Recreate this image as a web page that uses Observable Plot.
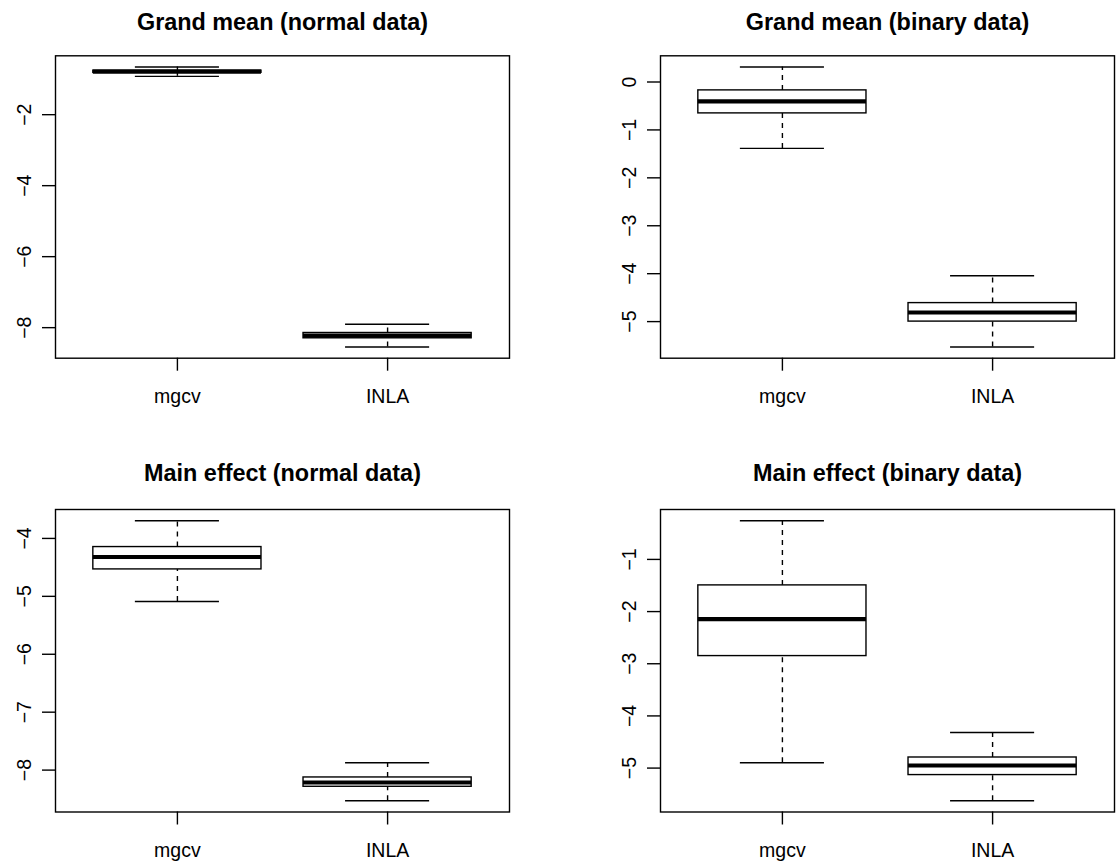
<!DOCTYPE html>
<html><head><meta charset="utf-8">
<script src="https://cdn.jsdelivr.net/npm/d3@7"></script>
<script src="https://cdn.jsdelivr.net/npm/@observablehq/plot@0.6"></script>
<style>
body{margin:0;background:#fff;}
#root{position:relative;width:1117px;height:867px;overflow:hidden;font-family:"Liberation Sans",Arial,Helvetica,sans-serif;}
#root svg{position:absolute;}
</style></head><body><div id="root"></div>
<script>
// categories
const methods = ["mgcv", "INLA"];
// panel titles
const titles = ["Grand mean (normal data)", "Grand mean (binary data)", "Main effect (normal data)", "Main effect (binary data)"];
// five-number summaries per method: [min, q1, median, q3, max]
const grandNormalMgcv = [-0.92, -0.82, -0.79, -0.76, -0.657];
const grandNormalInla = [-8.545, -8.30, -8.225, -8.15, -7.906];
const grandBinaryMgcv = [-1.386, -0.655, -0.405, -0.175, 0.313];
const grandBinaryInla = [-5.53, -5.0, -4.81, -4.614, -4.044];
const mainNormalMgcv = [-5.088, -4.535, -4.321, -4.149, -3.694];
const mainNormalInla = [-8.53, -8.288, -8.214, -8.127, -7.874];
const mainBinaryMgcv = [-4.898, -2.853, -2.143, -1.498, -0.258];
const mainBinaryInla = [-5.627, -5.134, -4.95, -4.797, -4.317];
// y tick values
const ticksGrandNormal = [-2, -4, -6, -8];
const ticksGrandBinary = [0, -1, -2, -3, -4, -5];
const ticksMainNormal = [-4, -5, -6, -7, -8];
const ticksMainBinary = [-1, -2, -3, -4, -5];

const FONT = '"Liberation Sans", Arial, Helvetica, sans-serif';
const fmt = v => (v < 0 ? "\u2212" + Math.abs(v) : String(v));

function panel(title, stats, yTicks, box) {
  const rows = stats.map((s, i) => ({m: methods[i], pos: i + 1, min: s[0], q1: s[1], med: s[2], q3: s[3], max: s[4]}));
  const lo = d3.min(rows, d => d.min), hi = d3.max(rows, d => d.max), pad = (hi - lo) * 0.04;
  const lw = 1.4;
  const svg = Plot.plot({
    width: box.w, height: box.h,
    marginLeft: box.ml, marginRight: box.mr, marginTop: box.mt, marginBottom: box.mb,
    x: {domain: [0.42, 2.58], axis: null, label: null},
    y: {domain: [lo - pad, hi + pad], axis: null, label: null},
    style: {fontFamily: FONT, fontSize: "19.5px", color: "black", background: "white", overflow: "visible"},
    marks: [
      Plot.ruleX(rows, {x: "pos", y1: "q3", y2: "max", strokeDasharray: "5,5", strokeWidth: lw}),
      Plot.ruleX(rows, {x: "pos", y1: "min", y2: "q1", strokeDasharray: "5,5", strokeWidth: lw}),
      Plot.ruleY(rows, {y: "max", x1: d => d.pos - 0.2, x2: d => d.pos + 0.2, strokeWidth: lw}),
      Plot.ruleY(rows, {y: "min", x1: d => d.pos - 0.2, x2: d => d.pos + 0.2, strokeWidth: lw}),
      Plot.rect(rows, {x1: d => d.pos - 0.4, x2: d => d.pos + 0.4, y1: "q1", y2: "q3", fill: "white", stroke: "black", strokeWidth: lw}),
      Plot.ruleY(rows, {y: "med", x1: d => d.pos - 0.4, x2: d => d.pos + 0.4, strokeWidth: 4.2}),
      Plot.frame({stroke: "black", strokeWidth: lw}),
      Plot.axisX({ticks: [1, 2], tickFormat: d => methods[d - 1], tickSize: 13, tickPadding: 18, strokeWidth: lw, fontSize: 19.5, label: null}),
      Plot.axisY({ticks: yTicks, tickSize: 13, tickFormat: () => "", strokeWidth: lw, label: null}),
      Plot.text(yTicks, {y: d => d, text: fmt, frameAnchor: "left", rotate: -90, dx: -25, lineAnchor: "bottom", textAnchor: "middle", fontSize: 19.5}),
      Plot.text([title], {text: d => d, frameAnchor: "top", dy: box.tdy, lineAnchor: "middle", fontWeight: "bold", fontSize: 23.4})
    ]
  });
  svg.style.left = box.x + "px";
  svg.style.top = box.y + "px";
  return svg;
}

const root = document.getElementById("root");
const rowTop = {y: 0, h: 433, mt: 55.3, mb: 433 - 357.7, tdy: -33};
const rowBot = {y: 433, h: 434, mt: 509 - 433, mb: 434 - (811.5 - 433), tdy: -36};
const colLeft = {x: 0, w: 558, ml: 55, mr: 558 - 509};
const colRight = {x: 558, w: 559, ml: 660 - 558, mr: 1117 - 1114};

root.appendChild(panel(titles[0], [grandNormalMgcv, grandNormalInla], ticksGrandNormal, {...rowTop, ...colLeft}));
root.appendChild(panel(titles[1], [grandBinaryMgcv, grandBinaryInla], ticksGrandBinary, {...rowTop, ...colRight}));
root.appendChild(panel(titles[2], [mainNormalMgcv, mainNormalInla], ticksMainNormal, {...rowBot, ...colLeft}));
root.appendChild(panel(titles[3], [mainBinaryMgcv, mainBinaryInla], ticksMainBinary, {...rowBot, ...colRight}));
</script>
</body></html>
